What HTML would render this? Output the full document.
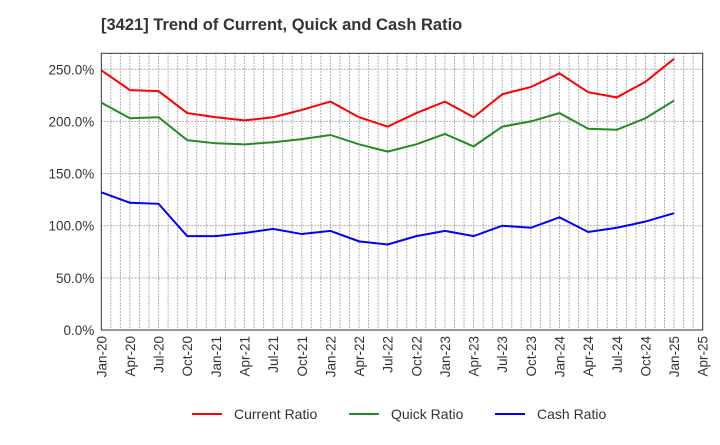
<!DOCTYPE html>
<html><head><meta charset="utf-8"><style>
body{margin:0;background:#fff;width:720px;height:440px;overflow:hidden;font-family:"Liberation Sans",sans-serif;}
</style></head><body>
<svg id="chart" width="720" height="440" xmlns="http://www.w3.org/2000/svg" font-family="Liberation Sans, sans-serif">
<text x="101" y="30" font-size="16.5" font-weight="bold" fill="#333">[3421]  Trend of Current, Quick and Cash Ratio</text>
<g id="grid"></g><g id="axes"></g><g id="series"></g>
<g font-size="14" fill="#333">
<line x1="192" y1="414" x2="222" y2="414" stroke="#ff0000" stroke-width="2"/><text x="234" y="419">Current Ratio</text>
<line x1="349" y1="414" x2="379" y2="414" stroke="#228b22" stroke-width="2"/><text x="391" y="419">Quick Ratio</text>
<line x1="495" y1="414" x2="525" y2="414" stroke="#0000ff" stroke-width="2"/><text x="537" y="419">Cash Ratio</text>
</g>
</svg>
<script>
const categories=["Jan-20","Apr-20","Jul-20","Oct-20","Jan-21","Apr-21","Jul-21","Oct-21","Jan-22","Apr-22","Jul-22","Oct-22","Jan-23","Apr-23","Jul-23","Oct-23","Jan-24","Apr-24","Jul-24","Oct-24","Jan-25","Apr-25"];
const currentRatio=[249,230,229,208,204,201,204,211,219,204,195,208,219,204,226,233,246,228,223,238,260];
const quickRatio=[218,203,204,182,179,178,180,183,187,178,171,178,188,176,195,200,208,193,192,203,220];
const cashRatio=[132,122,121,90,90,93,97,92,95,85,82,90,95,90,100,98,108,94,98,104,112];
const yTicks=[0,50,100,150,200,250];
const L=101.3,R=702.7,T=53.3,B=330,YMAX=265.3;
const NS="http://www.w3.org/2000/svg";
const x=i=>L+(R-L)*i/(categories.length-1);
const y=v=>B-(B-T)*v/YMAX;
function mk(tag,attrs,parent){const e=document.createElementNS(NS,tag);for(const k in attrs)e.setAttribute(k,attrs[k]);parent.appendChild(e);return e;}
const grid=document.getElementById('grid'),axes=document.getElementById('axes'),ser=document.getElementById('series');
for(let m=1;m<(categories.length-1)*3;m++){const xx=L+(R-L)*m/((categories.length-1)*3);
const g=mk('line',{x1:xx,x2:xx,y1:T,y2:B,stroke:'#999','stroke-dasharray':'1.5,1.5','stroke-width':1},grid);

}
yTicks.forEach(v=>{if(v>0){const g=mk('line',{x1:L,x2:R,y1:y(v),y2:y(v),stroke:'#999','stroke-dasharray':'1.5,1.5'},grid);

}
const t=mk('text',{x:L-7,y:y(v)+5,'text-anchor':'end','font-size':'13.5',fill:'#333'},axes);t.textContent=v.toFixed(1)+'%';

});
categories.forEach((c,i)=>{const t=mk('text',{transform:`translate(${x(i)+5},${B+6}) rotate(-90)`,'text-anchor':'end','font-size':'13.5',fill:'#333'},axes);t.textContent=c;

});
const fr=mk('rect',{x:L,y:T,width:R-L,height:B-T,fill:'none',stroke:'#333','stroke-width':1},axes);


[[currentRatio,'#ff0000','current-ratio-line'],[quickRatio,'#228b22','quick-ratio-line'],[cashRatio,'#0000ff','cash-ratio-line']].forEach(([d,c,n])=>{
const p=mk('polyline',{points:d.map((v,i)=>x(i)+','+y(v)).join(' '),fill:'none',stroke:c,'stroke-width':2},ser);

});
</script>
</body></html>
